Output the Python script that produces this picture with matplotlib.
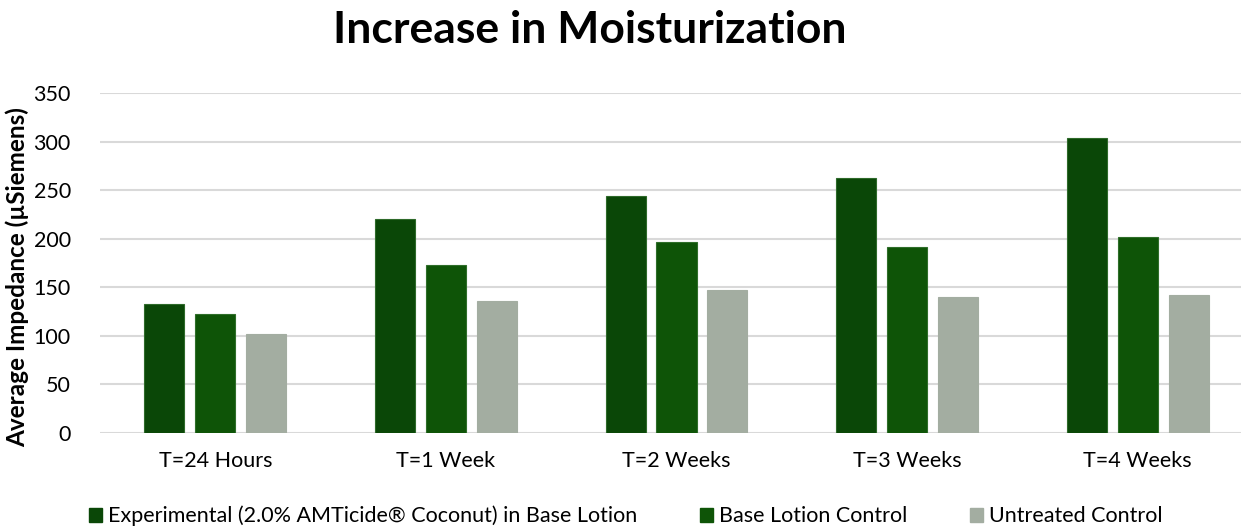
import matplotlib
matplotlib.use("Agg")
import matplotlib.pyplot as plt
from matplotlib.patches import Patch
import numpy as np

categories = ["T=24 Hours", "T=1 Week", "T=2 Weeks", "T=3 Weeks", "T=4 Weeks"]
series_names = ["Experimental (2.0% AMTicide\u00ae Coconut) in Base Lotion",
                "Base Lotion Control", "Untreated Control"]
experimental = [133, 220, 244, 263, 304]
base_lotion = [123, 173, 197, 191, 202]
untreated = [102, 136, 147, 140, 142]
yticks = [0, 50, 100, 150, 200, 250, 300, 350]

colors = ["#0a4707", "#0e5407", "#a3ada1"]
edges = ["#2e6a2a", "#2f6e2a", "#a3ada1"]

plt.rcParams['font.family'] = ['Lato', 'DejaVu Sans']

fig = plt.figure(figsize=(12.41, 5.29), dpi=100)
ax = fig.add_axes([100/1241, 1-433/529, 1153/1241, (433-93)/529])

x = np.arange(len(categories))
w = 0.1735
step = 0.221
for i, vals in enumerate([experimental, base_lotion, untreated]):
    ax.bar(x + (i-1)*step, vals, width=w, color=colors[i], edgecolor=edges[i],
           linewidth=0.8, zorder=3)

ax.set_xlim(-0.5, len(categories)-0.5)
ax.set_ylim(0, 350)
ax.set_yticks(yticks)
ax.set_yticklabels([str(t) for t in yticks], fontsize=15.5)
ax.set_xticks(x)
ax.set_xticklabels(categories, fontsize=15.5)
ax.tick_params(length=0)
ax.tick_params(axis='x', pad=13)
ax.tick_params(axis='y', pad=21)
ax.grid(axis='y', color='#d9d9d9', linewidth=1.5, zorder=0)
for s in ax.spines.values():
    s.set_visible(False)
ax.set_ylabel("Average Impedance (\u00b5Siemens)", fontsize=17.5, fontweight='bold')
ax.yaxis.set_label_coords((29-100)/1153, 0.46)

fig.text(590/1241, 1-30/529, "Increase in Moisturization", fontsize=32, fontweight='bold',
         ha='center', va='center')

handles = [Patch(facecolor=colors[i], edgecolor=colors[i]) for i in range(3)]
fig.legend(handles, series_names, loc='center', bbox_to_anchor=(626/1241, 1-516/529),
           ncol=3, frameon=False, fontsize=15.5, handlelength=0.6, handleheight=0.6,
           handletextpad=0.3, columnspacing=2.9)

fig.savefig("out.png", dpi=100)
